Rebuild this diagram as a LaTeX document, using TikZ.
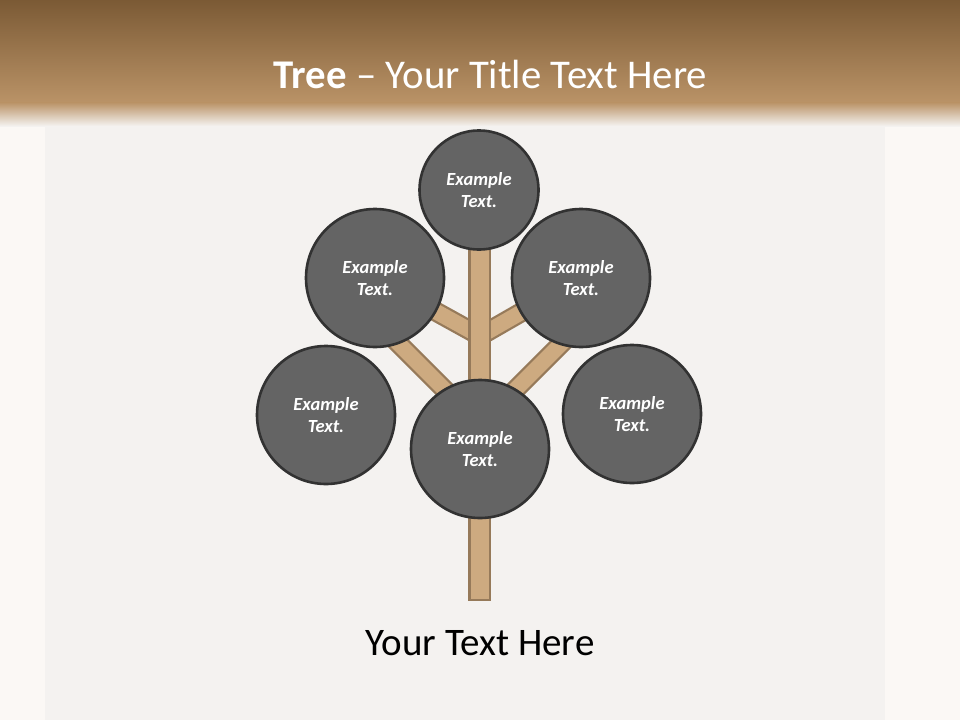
\documentclass[tikz,border=0pt]{standalone}
\usepackage{fontspec}
\setmainfont{Carlito}
\usetikzlibrary{backgrounds}
\definecolor{outerbg}{RGB}{251,248,245}
\definecolor{panelbg}{RGB}{244,242,240}
\definecolor{titletop}{RGB}{123,90,53}
\definecolor{titlebot}{RGB}{186,147,103}
\definecolor{barkfill}{RGB}{205,170,128}
\definecolor{barkline}{RGB}{150,122,90}
\definecolor{leaffill}{RGB}{100,100,100}
\definecolor{leafline}{RGB}{50,50,50}
\tikzset{
  leaf/.style={circle, fill=leaffill, draw=leafline, line width=2.6pt,
    text=white, align=center, inner sep=0pt,
    font=\fontsize{18.5}{22}\selectfont\bfseries\itshape},
  bigleaf/.style={leaf, minimum size=138pt},
  smallleaf/.style={leaf, minimum size=119pt},
  branchout/.style={line width=20pt, draw=barkline, line cap=butt},
  branchin/.style={line width=15.5pt, draw=barkfill, line cap=butt},
  trunkbox/.style={fill=barkfill, draw=barkline, line width=2.3pt},
}
\begin{document}
\begin{tikzpicture}[x=1pt,y=-1pt]
\useasboundingbox (0,0) rectangle (960,720);
% leaves as nodes
\path node[smallleaf] (top) at (479,190) {Example\\Text.}
      node[bigleaf] (ul) at (375,278) {Example\\Text.}
      node[bigleaf] (ur) at (581,278) {Example\\Text.}
      node[bigleaf] (l) at (326,415) {Example\\Text.}
      node[bigleaf] (c) at (480,449) {Example\\Text.}
      node[bigleaf] (r) at (632,414) {Example\\Text.};
% bottom text
\node[anchor=base, text=black, font=\fontsize{39}{46}\selectfont, inner sep=0pt] (caption) at (480,655) {Your Text Here};
\coordinate (jin) at (480,336);
\coordinate (jout) at (480,425);
\coordinate (tipl) at (385,330);
\coordinate (tipr) at (575,330);
\coordinate (trunktop) at (469.5,245);
\coordinate (trunkbot) at (490,600);
\begin{scope}[on background layer]
  % backgrounds
  \fill[outerbg] (0,0) rectangle (960,720);
  \fill[panelbg] (45,110) rectangle (885,720);
  \shade[top color=titletop, bottom color=titlebot] (0,0) rectangle (960,103);
  \shade[top color=titlebot, bottom color=panelbg] (0,102.5) rectangle (960,126);
  \node[anchor=base, text=white, font=\fontsize{40.8}{48}\selectfont, inner sep=0pt] (title) at (490.5,88) {\textbf{Tree} – Your Title Text Here};
  % branches
  \draw[branchout] (jin) -- (ul.center);
  \draw[branchin] (jin) -- (ul.center);
  \draw[branchout] (jin) -- (ur.center);
  \draw[branchin] (jin) -- (ur.center);
  \draw[branchout] (jout) -- (tipl);
  \draw[branchin] (jout) -- (tipl);
  \draw[branchout] (jout) -- (tipr);
  \draw[branchin] (jout) -- (tipr);
  % trunk
  \draw[trunkbox] (trunktop) rectangle (trunkbot);
\end{scope}
\end{tikzpicture}
\end{document}
